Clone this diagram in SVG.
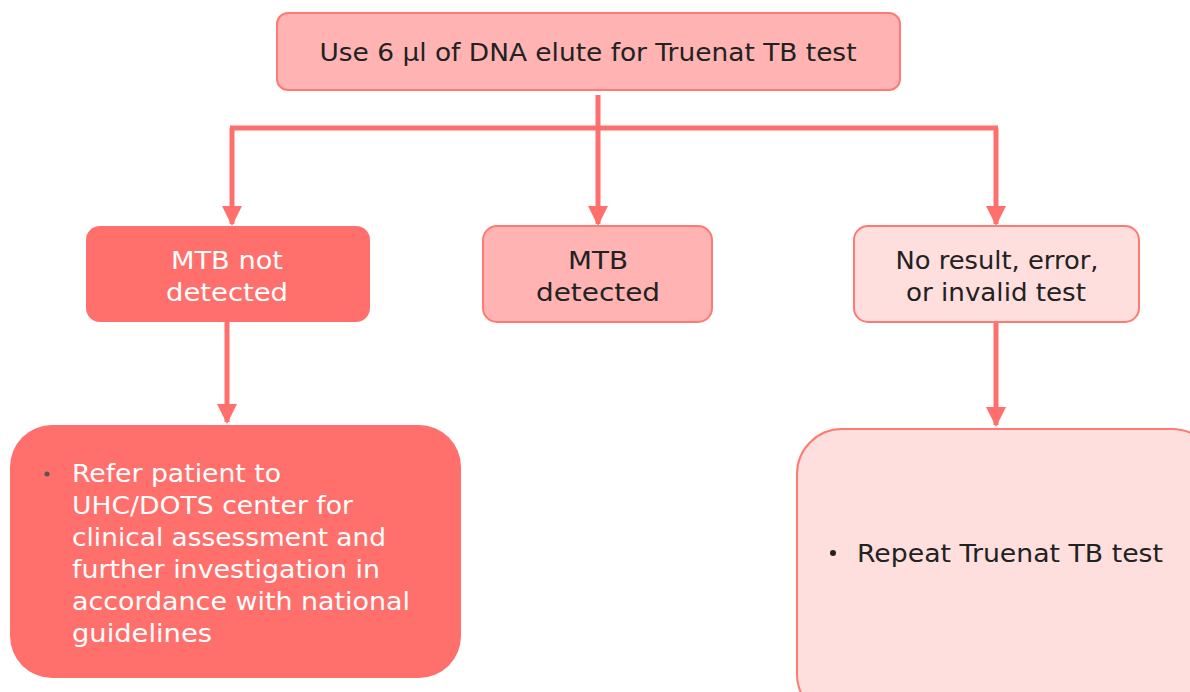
<svg xmlns="http://www.w3.org/2000/svg" width="1190" height="692" viewBox="0 0 1190 692">
<style>
.t{font-family:"DejaVu Sans","Open Sans","Liberation Sans",sans-serif;font-size:25px;text-anchor:middle}
.s{text-anchor:start}
.dark{fill:#222}
.light{fill:#fff}
.line{stroke:#FF6F6B;stroke-width:5;fill:none}
.b1{fill:#FFB3B3;stroke:#FF7A74;stroke-width:2}
.b2{fill:#FF6F6B}
.b3{fill:#FFDEDE;stroke:#FF7A74;stroke-width:2}
</style>
<defs>
<marker id="ah" viewBox="0 0 10 10" refX="9" refY="5" markerWidth="4" markerHeight="4" orient="auto" markerUnits="strokeWidth">
<path d="M0,0 L10,5 L0,10 z" fill="#FF6F6B"/>
</marker>
</defs>
<rect width="1190" height="692" fill="#fff"/>
<g id="connectors">
<path class="line" d="M598,95 V128"/>
<path class="line" d="M230,128 H998"/>
<path class="line" d="M232,128 V224" marker-end="url(#ah)"/>
<path class="line" d="M598,128 V224" marker-end="url(#ah)"/>
<path class="line" d="M996,128 V224" marker-end="url(#ah)"/>
<path class="line" d="M227,322 V422" marker-end="url(#ah)"/>
<path class="line" d="M996,322 V425" marker-end="url(#ah)"/>
</g>
<g id="n-top">
<rect class="b1" x="277" y="13" width="623" height="77" rx="11"/>
<text class="t dark" x="588" y="61" textLength="537" lengthAdjust="spacingAndGlyphs">Use 6 µl of DNA elute for Truenat TB test</text>
</g>
<g id="n-notdetected">
<rect class="b2" x="86" y="226" width="284" height="96" rx="14"/>
<text class="t light" x="227" y="269" textLength="112" lengthAdjust="spacingAndGlyphs">MTB not</text>
<text class="t light" x="227" y="301" textLength="122" lengthAdjust="spacingAndGlyphs">detected</text>
</g>
<g id="n-detected">
<rect class="b1" x="483" y="226" width="229" height="96" rx="14"/>
<text class="t dark" x="598" y="269" textLength="60" lengthAdjust="spacingAndGlyphs">MTB</text>
<text class="t dark" x="598" y="301" textLength="124" lengthAdjust="spacingAndGlyphs">detected</text>
</g>
<g id="n-noresult">
<rect class="b3" x="854" y="226" width="285" height="96" rx="14"/>
<text class="t dark" x="997" y="269" textLength="203" lengthAdjust="spacingAndGlyphs">No result, error,</text>
<text class="t dark" x="996" y="301" textLength="180" lengthAdjust="spacingAndGlyphs">or invalid test</text>
</g>
<g id="n-refer">
<rect class="b2" x="10" y="425" width="451" height="253" rx="42"/>
<circle cx="47" cy="474" r="2.5" fill="#555"/>
<text class="t s light" x="72" y="482" textLength="209" lengthAdjust="spacingAndGlyphs">Refer patient to</text>
<text class="t s light" x="72" y="514" textLength="281" lengthAdjust="spacingAndGlyphs">UHC/DOTS center for</text>
<text class="t s light" x="72" y="546" textLength="314" lengthAdjust="spacingAndGlyphs">clinical assessment and</text>
<text class="t s light" x="72" y="578" textLength="308" lengthAdjust="spacingAndGlyphs">further investigation in</text>
<text class="t s light" x="72" y="610" textLength="338" lengthAdjust="spacingAndGlyphs">accordance with national</text>
<text class="t s light" x="72" y="642" textLength="140" lengthAdjust="spacingAndGlyphs">guidelines</text>
</g>
<g id="n-repeat">
<rect class="b3" x="797" y="429" width="420" height="290" rx="45"/>
<circle cx="833" cy="553" r="3" fill="#222"/>
<text class="t s dark" x="857" y="562" textLength="306" lengthAdjust="spacingAndGlyphs">Repeat Truenat TB test</text>
</g>
</svg>
